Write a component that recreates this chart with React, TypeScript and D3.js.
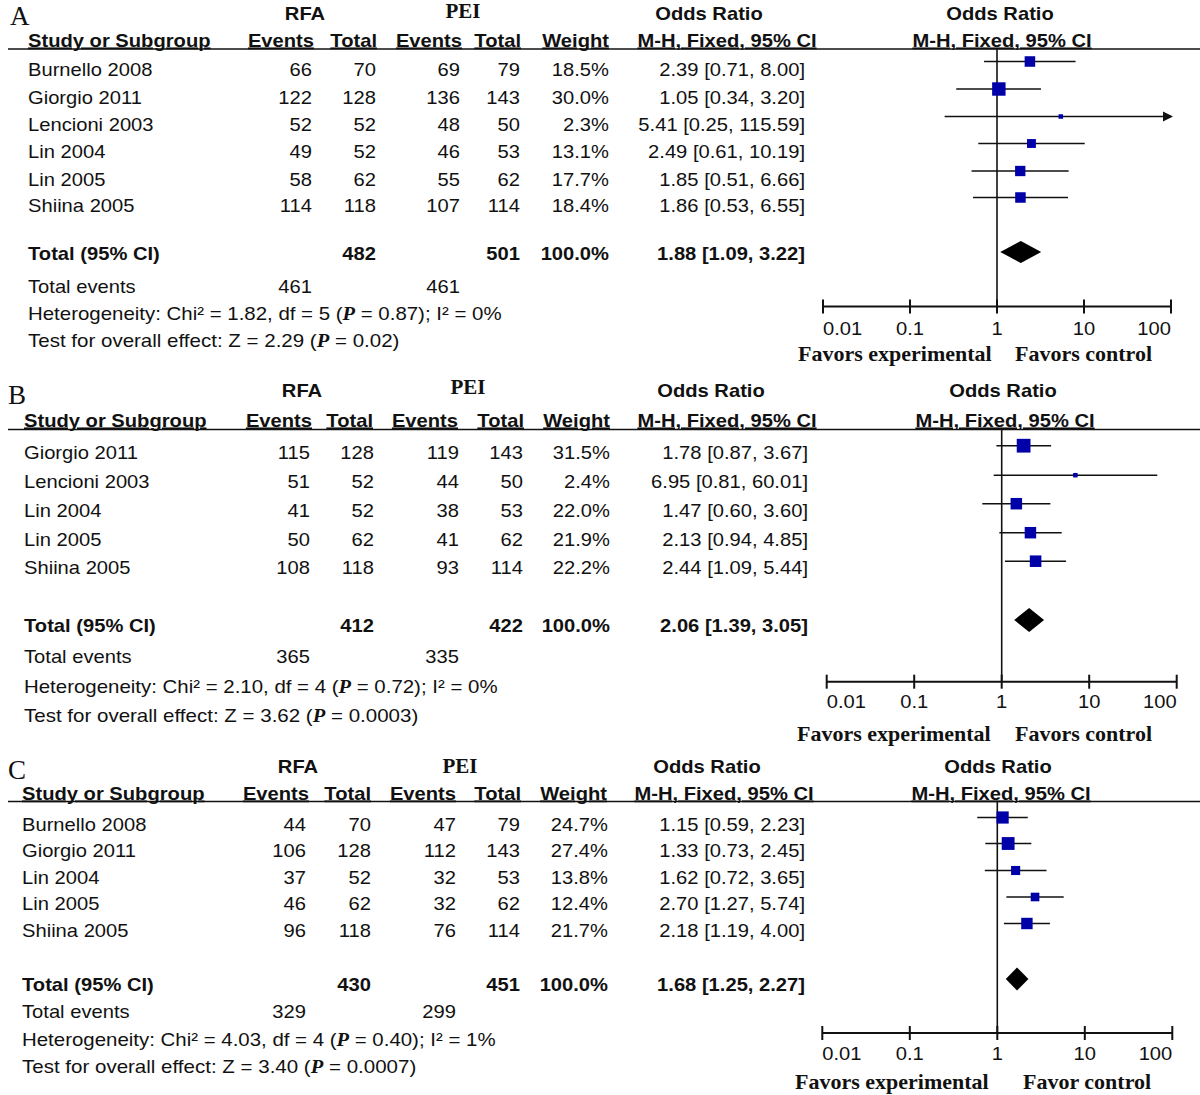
import React from 'react';
import * as d3 from 'd3';

// ---------- Panel A data ----------
const studiesA = ['Burnello 2008', 'Giorgio 2011', 'Lencioni 2003', 'Lin 2004', 'Lin 2005', 'Shiina 2005'];
const rfaEventsA = [66, 122, 52, 49, 58, 114];
const rfaTotalA = [70, 128, 52, 52, 62, 118];
const peiEventsA = [69, 136, 48, 46, 55, 107];
const peiTotalA = [79, 143, 50, 53, 62, 114];
const weightA = [18.5, 30.0, 2.3, 13.1, 17.7, 18.4];
const orA = [2.39, 1.05, 5.41, 2.49, 1.85, 1.86];
const lowerA = [0.71, 0.34, 0.25, 0.61, 0.51, 0.53];
const upperA = [8.0, 3.2, 115.59, 10.19, 6.66, 6.55];
const totalsA = [482, 501];
const totalEventsA = [461, 461];
const pooledA = [1.88, 1.09, 3.22];
const heteroA = ['1.82', '5', '0.87', '0%'];
const effectA = ['2.29', '0.02'];

// ---------- Panel B data ----------
const studiesB = ['Giorgio 2011', 'Lencioni 2003', 'Lin 2004', 'Lin 2005', 'Shiina 2005'];
const rfaEventsB = [115, 51, 41, 50, 108];
const rfaTotalB = [128, 52, 52, 62, 118];
const peiEventsB = [119, 44, 38, 41, 93];
const peiTotalB = [143, 50, 53, 62, 114];
const weightB = [31.5, 2.4, 22.0, 21.9, 22.2];
const orB = [1.78, 6.95, 1.47, 2.13, 2.44];
const lowerB = [0.87, 0.81, 0.6, 0.94, 1.09];
const upperB = [3.67, 60.01, 3.6, 4.85, 5.44];
const totalsB = [412, 422];
const totalEventsB = [365, 335];
const pooledB = [2.06, 1.39, 3.05];
const heteroB = ['2.10', '4', '0.72', '0%'];
const effectB = ['3.62', '0.0003'];

// ---------- Panel C data ----------
const studiesC = ['Burnello 2008', 'Giorgio 2011', 'Lin 2004', 'Lin 2005', 'Shiina 2005'];
const rfaEventsC = [44, 106, 37, 46, 96];
const rfaTotalC = [70, 128, 52, 62, 118];
const peiEventsC = [47, 112, 32, 32, 76];
const peiTotalC = [79, 143, 53, 62, 114];
const weightC = [24.7, 27.4, 13.8, 12.4, 21.7];
const orC = [1.15, 1.33, 1.62, 2.7, 2.18];
const lowerC = [0.59, 0.73, 0.72, 1.27, 1.19];
const upperC = [2.23, 2.45, 3.65, 5.74, 4.0];
const totalsC = [430, 451];
const totalEventsC = [329, 299];
const pooledC = [1.68, 1.25, 2.27];
const heteroC = ['4.03', '4', '0.40', '1%'];
const effectC = ['3.40', '0.0007'];

// ---------- axis ticks ----------
const tickValues = [0.01, 0.1, 1, 10, 100];
const tickLabels = ['0.01', '0.1', '1', '10', '100'];

const SANS = "'Liberation Sans', Arial, Helvetica, sans-serif";
const SERIF = "'Liberation Serif', 'Times New Roman', serif";
const SX = 1.12;
const INK = '#111';
const BLUE = '#0000a8';

function T({ x, y, anchor = 'start', bold = false, size = 18, underline = false, sx = SX, children }: any) {
  return (
    <text
      transform={`translate(${x},${y}) scale(${sx},1)`}
      textAnchor={anchor}
      fontFamily={SANS}
      fontSize={size}
      fontWeight={bold ? 'bold' : 'normal'}
      textDecoration={underline ? 'underline' : undefined}
      fill={INK}
    >
      {children}
    </text>
  );
}

function S({ x, y, anchor = 'start', bold = true, size = 22, children }: any) {
  return (
    <text x={x} y={y} textAnchor={anchor} fontFamily={SERIF} fontSize={size} fontWeight={bold ? 'bold' : 'normal'} fill={INK}>
      {children}
    </text>
  );
}

const Pi = () => (
  <tspan fontFamily={SERIF} fontStyle="italic" fontWeight="bold">P</tspan>
);

const panels = [
  {
    letter: 'A', studies: studiesA, rfaE: rfaEventsA, rfaT: rfaTotalA, peiE: peiEventsA, peiT: peiTotalA,
    w: weightA, or: orA, lo: lowerA, hi: upperA, totals: totalsA, tev: totalEventsA, pooled: pooledA,
    het: heteroA, eff: effectA, fav2: 'Favors control',
    L: {
      letterX: 10, letterY: 25, groupY: 19.5, peiY: 18, headY: 46.5, lineY: 49,
      rowY: [70, 97.5, 125, 152, 179.5, 206], totalY: 254, evY: 287, hetY: 314, testY: 341,
      ciOff: 8.5, diaY: 252, diaH: 11, axisY: 306.5, tickY: 335, favY: 361, x0: 823, x1: 1171,
      studyX: 28, cols: [312, 376, 460, 520, 609, 805], hdr: [314, 377, 462, 521, 609],
      mh: 727, rmh: 1002, rfa: 305, pei: 463, orc: 709, rorc: 1000, fav1X: 798, fav2X: 1015,
    },
  },
  {
    letter: 'B', studies: studiesB, rfaE: rfaEventsB, rfaT: rfaTotalB, peiE: peiEventsB, peiT: peiTotalB,
    w: weightB, or: orB, lo: lowerB, hi: upperB, totals: totalsB, tev: totalEventsB, pooled: pooledB,
    het: heteroB, eff: effectB, fav2: 'Favors control',
    L: {
      letterX: 8, letterY: 404, groupY: 396.5, peiY: 394, headY: 426.5, lineY: 429.5,
      rowY: [452.5, 482, 510.5, 539.5, 568], totalY: 625.5, evY: 657, hetY: 687, testY: 716,
      ciOff: 6.8, diaY: 620, diaH: 12, axisY: 681.7, tickY: 708, favY: 741, x0: 826.7, x1: 1176.7,
      studyX: 24, cols: [310, 374, 459, 523, 610, 808], hdr: [312, 373, 458, 524, 610],
      mh: 727, rmh: 1005, rfa: 302, pei: 468, orc: 711, rorc: 1003, fav1X: 797, fav2X: 1015,
    },
  },
  {
    letter: 'C', studies: studiesC, rfaE: rfaEventsC, rfaT: rfaTotalC, peiE: peiEventsC, peiT: peiTotalC,
    w: weightC, or: orC, lo: lowerC, hi: upperC, totals: totalsC, tev: totalEventsC, pooled: pooledC,
    het: heteroC, eff: effectC, fav2: 'Favor control',
    L: {
      letterX: 8, letterY: 779, groupY: 772.5, peiY: 773, headY: 799.5, lineY: 801.5,
      rowY: [824.5, 850.5, 877.5, 904, 930.5], totalY: 984.5, evY: 1012, hetY: 1040, testY: 1067,
      ciOff: 7, diaY: 979, diaH: 11.5, axisY: 1033, tickY: 1060, favY: 1089, x0: 822.3, x1: 1172.3,
      studyX: 22, cols: [306, 371, 456, 520, 608, 805], hdr: [309, 371, 456, 521, 607],
      mh: 724, rmh: 1001, rfa: 298, pei: 460, orc: 707, rorc: 998, fav1X: 795, fav2X: 1023,
    },
  },
];

const fmtCI = (o: number, l: number, h: number) => `${o.toFixed(2)} [${l.toFixed(2)}, ${h.toFixed(2)}]`;

function Panel({ p }: any) {
  const L = p.L;
  const x = d3.scaleLog().domain([tickValues[0], tickValues[tickValues.length - 1]]).range([L.x0, L.x1]);
  const bl = (c: number) => c + 6.4;
  const xMax = x(tickValues[tickValues.length - 1]);
  const diamond = (o: number, l: number, h: number, y: number, hh: number) =>
    `M${x(l)},${y} L${x(o)},${y - hh} L${x(h)},${y} L${x(o)},${y + hh} Z`;

  return (
    <g>
      <text x={L.letterX} y={L.letterY} fontFamily={SERIF} fontSize={27} fill={INK}>{p.letter}</text>

      {/* group headers */}
      <T x={L.rfa} y={L.groupY} anchor="middle" bold>RFA</T>
      <S x={L.pei} y={L.peiY} anchor="middle" size={21}>PEI</S>
      <T x={L.orc} y={L.groupY} anchor="middle" bold>Odds Ratio</T>
      <T x={L.rorc} y={L.groupY} anchor="middle" bold>Odds Ratio</T>

      {/* column headers */}
      <T x={L.studyX} y={L.headY} bold underline>Study or Subgroup</T>
      <T x={L.hdr[0]} y={L.headY} anchor="end" bold underline>Events</T>
      <T x={L.hdr[1]} y={L.headY} anchor="end" bold underline>Total</T>
      <T x={L.hdr[2]} y={L.headY} anchor="end" bold underline>Events</T>
      <T x={L.hdr[3]} y={L.headY} anchor="end" bold underline>Total</T>
      <T x={L.hdr[4]} y={L.headY} anchor="end" bold underline>Weight</T>
      <T x={L.mh} y={L.headY} anchor="middle" bold underline>M-H, Fixed, 95% CI</T>
      <T x={L.rmh} y={L.headY} anchor="middle" bold underline>M-H, Fixed, 95% CI</T>
      <line x1={8} x2={1200} y1={L.lineY} y2={L.lineY} stroke={INK} strokeWidth={1.6} />

      {/* study rows */}
      {p.studies.map((s: string, i: number) => {
        const y = bl(L.rowY[i]);
        return (
          <g key={s + i}>
            <T x={L.studyX} y={y}>{s}</T>
            <T x={L.cols[0]} y={y} anchor="end">{p.rfaE[i]}</T>
            <T x={L.cols[1]} y={y} anchor="end">{p.rfaT[i]}</T>
            <T x={L.cols[2]} y={y} anchor="end">{p.peiE[i]}</T>
            <T x={L.cols[3]} y={y} anchor="end">{p.peiT[i]}</T>
            <T x={L.cols[4]} y={y} anchor="end">{p.w[i].toFixed(1)}%</T>
            <T x={L.cols[5]} y={y} anchor="end">{fmtCI(p.or[i], p.lo[i], p.hi[i])}</T>
          </g>
        );
      })}

      {/* totals */}
      <T x={L.studyX} y={bl(L.totalY)} bold>Total (95% CI)</T>
      <T x={L.cols[1]} y={bl(L.totalY)} anchor="end" bold>{p.totals[0]}</T>
      <T x={L.cols[3]} y={bl(L.totalY)} anchor="end" bold>{p.totals[1]}</T>
      <T x={L.cols[4]} y={bl(L.totalY)} anchor="end" bold>100.0%</T>
      <T x={L.cols[5]} y={bl(L.totalY)} anchor="end" bold>{fmtCI(p.pooled[0], p.pooled[1], p.pooled[2])}</T>
      <T x={L.studyX} y={bl(L.evY)}>Total events</T>
      <T x={L.cols[0]} y={bl(L.evY)} anchor="end">{p.tev[0]}</T>
      <T x={L.cols[2]} y={bl(L.evY)} anchor="end">{p.tev[1]}</T>
      <T x={L.studyX} y={bl(L.hetY)} sx={1.135}>
        Heterogeneity: Chi² = {p.het[0]}, df = {p.het[1]} (<Pi /> = {p.het[2]}); I² = {p.het[3]}
      </T>
      <T x={L.studyX} y={bl(L.testY)} sx={1.14}>
        Test for overall effect: Z = {p.eff[0]} (<Pi /> = {p.eff[1]})
      </T>

      {/* forest plot */}
      <line x1={x(1)} x2={x(1)} y1={L.lineY} y2={L.axisY} stroke={INK} strokeWidth={1.6} />
      {p.studies.map((s: string, i: number) => {
        const y = L.rowY[i] - L.ciOff;
        const hiX = Math.min(x(p.hi[i]), xMax);
        const side = Math.max(4.5, 2.45 * Math.sqrt(p.w[i]));
        return (
          <g key={'f' + i}>
            <line x1={x(p.lo[i])} x2={hiX} y1={y} y2={y} stroke={INK} strokeWidth={1.5} />
            {p.hi[i] > tickValues[tickValues.length - 1] && (
              <path d={`M${xMax - 8},${y - 5} L${xMax + 2},${y} L${xMax - 8},${y + 5} Z`} fill={INK} />
            )}
            <rect x={x(p.or[i]) - side / 2} y={y - side / 2} width={side} height={side} fill={BLUE} />
          </g>
        );
      })}
      <path d={diamond(p.pooled[0], p.pooled[1], p.pooled[2], L.diaY, L.diaH)} fill="#000" />

      {/* axis */}
      <line x1={x(tickValues[0])} x2={xMax} y1={L.axisY} y2={L.axisY} stroke={INK} strokeWidth={2} />
      {tickValues.map((t, i) => (
        <g key={'t' + i}>
          <line x1={x(t)} x2={x(t)} y1={L.axisY - 7} y2={L.axisY + 7} stroke={INK} strokeWidth={2} />
          <T
            x={x(t)}
            y={L.tickY}
            anchor={i === 0 ? 'start' : i === tickValues.length - 1 ? 'end' : 'middle'}
          >
            {tickLabels[i]}
          </T>
        </g>
      ))}
      <S x={L.fav1X} y={L.favY}>Favors experimental</S>
      <S x={L.fav2X} y={L.favY}>{p.fav2}</S>
    </g>
  );
}

export default function App() {
  return (
    <svg
      width={1200}
      height={1095}
      viewBox="0 0 1200 1095"
      style={{ position: 'absolute', left: 0, top: 0, display: 'block', background: '#fff' }}
    >
      <rect width={1200} height={1095} fill="#fff" />
      {panels.map((p) => (
        <Panel key={p.letter} p={p} />
      ))}
    </svg>
  );
}
